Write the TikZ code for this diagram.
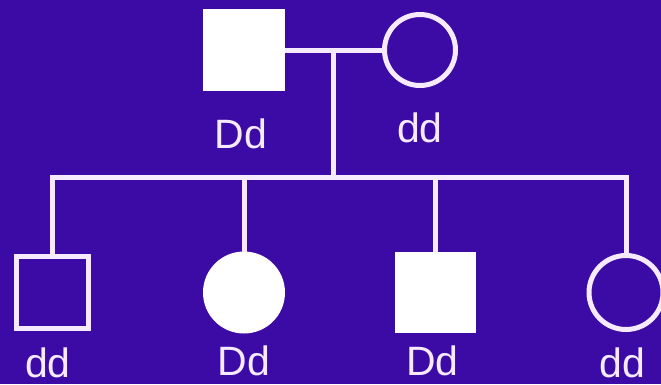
\documentclass[tikz,border=0pt]{standalone}
\usepackage{fontspec}
\setmainfont{Liberation Sans}
\definecolor{bg}{RGB}{60,10,165}
\definecolor{ink}{RGB}{246,234,255}
\begin{document}
\begin{tikzpicture}[x=1pt,y=-1pt,
  line width=5pt,
  male/.style={rectangle,draw=ink,inner sep=0pt},
  female/.style={circle,draw=ink,inner sep=0pt},
  affected/.style={fill=white,draw=white},
  link/.style={draw=ink,line width=5pt},
  geno/.style={text=ink,font=\fontsize{41}{41}\selectfont,anchor=base,
    inner sep=0pt,text depth=0pt}]
  % background and canvas size
  \fill[bg] (0,0) rectangle (661,384);
  \useasboundingbox (0,0) rectangle (661,384);

  % parents
  \node[male,affected,minimum size=77pt] (f) at (244,50) {};
  \node[female,minimum size=71pt] (m) at (420,50) {};
  \node[geno] (lf) at (241,148) {Dd};
  \node[geno] (lm) at (420,142) {dd};

  % children
  \node[male,minimum size=72pt] (c1) at (52.5,292.5) {};
  \node[female,affected,minimum size=77pt] (c2) at (244,292.5) {};
  \node[male,affected,minimum size=76pt] (c3) at (435.5,292.5) {};
  \node[female,minimum size=74pt] (c4) at (626,292.5) {};
  \node[geno] (l1) at (48,377) {dd};
  \node[geno] (l2) at (244,375) {Dd};
  \node[geno] (l3) at (432.5,375) {Dd};
  \node[geno] (l4) at (622,377) {dd};

  % mating line, descent line and sibship line
  \coordinate (mid) at (333,50);
  \coordinate (sib) at (333,177);
  \draw[link] (f.east) -- (m.west);
  \draw[link] (mid) -- (sib);
  \draw[link,line cap=rect] (c1.north |- sib) -- (c4.north |- sib);
  \foreach \c in {c1,c2,c3,c4}
    \draw[link] (\c.north |- sib) -- (\c.north);
\end{tikzpicture}
\end{document}
